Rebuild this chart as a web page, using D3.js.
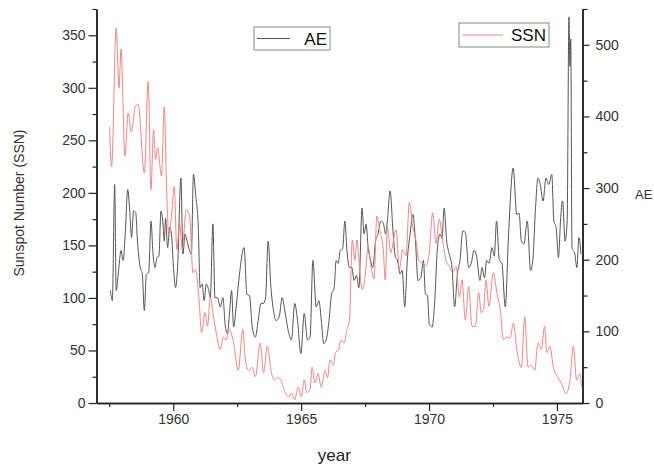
<!DOCTYPE html>
<html>
<head>
<meta charset="utf-8">
<script src="https://cdn.jsdelivr.net/npm/d3@7"></script>
<style>
  body { margin: 0; background: #fff; }
  svg { font-family: "Liberation Sans", Arial, sans-serif; }
</style>
</head>
<body>
<div id="chart"></div>
<script>
// SSN (left axis) : [year, value]
const ssnData = [
  [1957.51,263],[1957.59,225],[1957.77,357],[1957.88,300],[1957.96,337],[1958.11,235],
  [1958.24,276],[1958.36,258],[1958.52,282],[1958.63,284],[1958.87,219],[1959.02,306],
  [1959.13,203],[1959.23,260],[1959.31,232],[1959.39,243],[1959.54,216],[1959.65,282],
  [1959.75,197],[1959.83,159],[1959.93,178],[1960.04,206],[1960.14,146],[1960.25,172],
  [1960.35,146],[1960.51,184],[1960.64,178],[1960.77,124],[1960.87,127],[1961.00,101],
  [1961.11,67],[1961.24,86],[1961.34,73],[1961.45,101],[1961.55,86],[1961.68,67],
  [1961.84,51],[1961.96,63],[1962.07,60],[1962.18,70],[1962.34,60],[1962.54,31],
  [1962.72,70],[1962.82,41],[1962.96,31],[1963.09,34],[1963.21,25],[1963.40,57],
  [1963.53,29],[1963.68,54],[1963.82,31],[1963.95,22],[1964.07,24],[1964.21,22],
  [1964.34,12],[1964.52,6],[1964.62,9],[1964.75,3],[1964.88,15],[1965.01,6],
  [1965.12,22],[1965.22,10],[1965.35,13],[1965.43,34],[1965.54,19],[1965.66,28],
  [1965.79,15],[1965.93,31],[1966.03,24],[1966.13,41],[1966.26,36],[1966.34,48],
  [1966.45,50],[1966.57,60],[1966.68,57],[1966.79,70],[1966.89,79],[1967.00,155],
  [1967.10,136],[1967.18,155],[1967.28,130],[1967.38,108],[1967.50,120],[1967.62,149],
  [1967.73,130],[1967.85,118],[1967.96,178],[1968.07,165],[1968.21,146],[1968.29,117],
  [1968.37,168],[1968.50,143],[1968.71,165],[1968.84,127],[1968.97,146],[1969.10,140],
  [1969.23,191],[1969.36,168],[1969.49,155],[1969.60,136],[1969.73,133],[1969.88,131],
  [1970.01,143],[1970.14,181],[1970.27,152],[1970.40,175],[1970.53,155],[1970.66,136],
  [1970.79,130],[1970.93,124],[1971.06,130],[1971.19,101],[1971.29,117],[1971.42,79],
  [1971.55,111],[1971.68,73],[1971.81,73],[1971.94,105],[1972.04,86],[1972.13,89],
  [1972.23,117],[1972.34,92],[1972.52,124],[1972.65,105],[1972.78,90],[1972.91,60],
  [1973.04,63],[1973.17,62],[1973.30,76],[1973.43,51],[1973.61,34],[1973.74,82],
  [1973.87,34],[1974.00,36],[1974.13,31],[1974.26,57],[1974.39,51],[1974.52,73],
  [1974.60,48],[1974.73,54],[1974.86,34],[1975.02,25],[1975.17,19],[1975.36,9],
  [1975.51,22],[1975.64,54],[1975.77,22],[1975.90,28],[1975.96,16]
];

// AE (right axis) : [year, value]
const aeData = [
  [1957.54,157],[1957.62,143],[1957.71,305],[1957.77,157],[1957.85,180],[1957.96,213],
  [1958.04,199],[1958.13,240],[1958.22,298],[1958.30,268],[1958.37,231],[1958.45,268],
  [1958.53,266],[1958.61,222],[1958.71,189],[1958.79,180],[1958.87,129],[1958.95,180],
  [1959.04,182],[1959.13,254],[1959.21,208],[1959.29,189],[1959.36,203],[1959.44,205],
  [1959.52,268],[1959.60,250],[1959.65,226],[1959.70,258],[1959.78,217],[1959.86,245],
  [1959.93,235],[1960.01,189],[1960.09,161],[1960.17,189],[1960.30,314],[1960.38,208],
  [1960.46,236],[1960.54,226],[1960.64,213],[1960.71,208],[1960.79,319],[1960.88,290],
  [1960.98,245],[1961.05,161],[1961.13,166],[1961.21,143],[1961.29,166],[1961.37,160],
  [1961.45,147],[1961.55,250],[1961.63,147],[1961.73,147],[1961.84,134],[1961.94,147],
  [1962.04,106],[1962.12,97],[1962.20,125],[1962.28,157],[1962.36,106],[1962.46,134],
  [1962.59,180],[1962.77,217],[1962.88,152],[1962.98,150],[1963.09,106],[1963.21,92],
  [1963.32,115],[1963.43,139],[1963.52,139],[1963.61,147],[1963.71,226],[1963.82,161],
  [1963.92,129],[1964.02,115],[1964.14,120],[1964.26,147],[1964.36,129],[1964.52,97],
  [1964.62,88],[1964.75,139],[1964.86,115],[1964.99,69],[1965.12,125],[1965.25,88],
  [1965.35,92],[1965.46,199],[1965.59,134],[1965.69,143],[1965.80,111],[1965.88,83],
  [1965.98,88],[1966.09,115],[1966.19,152],[1966.29,161],[1966.37,199],[1966.45,195],
  [1966.53,213],[1966.62,215],[1966.71,254],[1966.79,213],[1966.89,189],[1966.98,189],
  [1967.07,171],[1967.16,178],[1967.26,161],[1967.38,272],[1967.46,236],[1967.54,250],
  [1967.62,217],[1967.71,200],[1967.80,189],[1967.91,226],[1968.00,235],[1968.12,254],
  [1968.22,250],[1968.30,236],[1968.37,254],[1968.48,296],[1968.59,240],[1968.69,203],
  [1968.76,200],[1968.87,180],[1968.95,185],[1969.05,134],[1969.15,199],[1969.26,236],
  [1969.37,263],[1969.47,226],[1969.57,171],[1969.68,175],[1969.78,199],[1969.86,152],
  [1969.94,150],[1970.01,111],[1970.12,106],[1970.22,140],[1970.33,217],[1970.43,236],
  [1970.51,230],[1970.59,272],[1970.69,226],[1970.79,208],[1970.90,189],[1971.00,134],
  [1971.11,180],[1971.21,199],[1971.32,240],[1971.42,238],[1971.55,189],[1971.65,195],
  [1971.76,213],[1971.86,205],[1971.99,171],[1972.07,189],[1972.17,175],[1972.25,199],
  [1972.35,195],[1972.46,217],[1972.55,205],[1972.64,254],[1972.75,199],[1972.85,195],
  [1972.98,134],[1973.11,236],[1973.29,328],[1973.43,263],[1973.52,265],[1973.61,226],
  [1973.71,222],[1973.84,254],[1973.97,185],[1974.06,200],[1974.16,270],[1974.26,314],
  [1974.35,305],[1974.46,282],[1974.57,314],[1974.68,305],[1974.80,319],[1974.88,254],
  [1974.97,245],[1975.06,203],[1975.14,254],[1975.22,282],[1975.32,226],[1975.40,254],
  [1975.47,539],[1975.51,470],[1975.54,508],[1975.59,217],[1975.70,208],[1975.78,189],
  [1975.86,231],[1975.94,208]
];

const yearTicks = [1960, 1965, 1970, 1975];
const yearMinor = [1957.5, 1962.5, 1967.5, 1972.5];
const ssnTicks = [0, 50, 100, 150, 200, 250, 300, 350];
const aeTicks = [0, 100, 200, 300, 400, 500];

const W = 654, H = 466;
const margin = {top: 9, right: 71.5, bottom: 63, left: 96.5};
const width = W - margin.left - margin.right;
const height = H - margin.top - margin.bottom;

const svg = d3.select('#chart').append('svg')
  .attr('width', W).attr('height', H);

const x = d3.scaleLinear().domain([1957, 1976]).range([0, width]);
const yL = d3.scaleLinear().domain([0, 375]).range([height, 0]);
const yR = d3.scaleLinear().domain([0, 550]).range([height, 0]);

const g = svg.append('g').attr('transform', `translate(${margin.left},${margin.top})`);

// lines
const ssnLine = d3.line().x(d => x(d[0])).y(d => yL(d[1])).curve(d3.curveMonotoneX);
const aeLine = d3.line().x(d => x(d[0])).y(d => yR(d[1])).curve(d3.curveMonotoneX);

g.append('path').datum(aeData)
  .attr('d', aeLine).attr('fill', 'none')
  .attr('stroke', '#555').attr('stroke-width', 1);
g.append('path').datum(ssnData)
  .attr('d', ssnLine).attr('fill', 'none')
  .attr('stroke', '#f28484').attr('stroke-width', 1);

// axes
function styleAxis(sel) {
  sel.select('.domain').attr('stroke', '#222').attr('stroke-width', 1.5);
  sel.selectAll('.tick line').attr('stroke', '#222').attr('stroke-width', 1.2);
  sel.selectAll('.tick text').attr('fill', '#333').style('font-size', '14px');
}

g.append('g').attr('transform', `translate(0,${height})`)
  .call(d3.axisBottom(x).tickValues(yearMinor).tickSize(4).tickFormat('').tickSizeOuter(0))
  .call(styleAxis);
g.append('g').attr('transform', `translate(0,${height})`)
  .call(d3.axisBottom(x).tickValues(yearTicks).tickSize(8).tickPadding(3).tickFormat(d3.format('d')).tickSizeOuter(0))
  .call(styleAxis);

g.append('g')
  .call(d3.axisLeft(yL).tickValues(d3.range(25, 400, 50)).tickSize(4).tickFormat('').tickSizeOuter(0))
  .call(styleAxis);
g.append('g')
  .call(d3.axisLeft(yL).tickValues(ssnTicks).tickSize(8).tickPadding(3).tickSizeOuter(0))
  .call(styleAxis);

g.append('g').attr('transform', `translate(${width},0)`)
  .call(d3.axisRight(yR).tickValues(d3.range(50, 600, 100)).tickSize(5).tickFormat('').tickSizeOuter(0))
  .call(styleAxis);
g.append('g').attr('transform', `translate(${width},0)`)
  .call(d3.axisRight(yR).tickValues(aeTicks).tickSize(7).tickPadding(6).tickSizeOuter(0))
  .call(styleAxis);

// axis titles
svg.append('text')
  .attr('transform', `translate(24,${margin.top + height / 2 - 3}) rotate(-90)`)
  .attr('text-anchor', 'middle')
  .attr('fill', '#333').style('font-size', '14px')
  .text('Sunspot Number (SSN)');

svg.append('text')
  .attr('x', 635).attr('y', 199)
  .attr('fill', '#333').style('font-size', '13px')
  .text('AE');

svg.append('text')
  .attr('x', margin.left + x(1966.3)).attr('y', 461)
  .attr('text-anchor', 'middle')
  .attr('fill', '#222').style('font-size', '17px')
  .text('year');

// legends
const legends = [
  {label: 'AE', color: '#555', x: 254, y: 27, w: 76, h: 23},
  {label: 'SSN', color: '#f28484', x: 459, y: 23, w: 90, h: 24}
];
legends.forEach(l => {
  const lg = svg.append('g').attr('transform', `translate(${l.x},${l.y})`);
  lg.append('rect').attr('width', l.w).attr('height', l.h)
    .attr('fill', '#fff').attr('stroke', '#888').attr('stroke-width', 1);
  lg.append('line').attr('x1', 3).attr('x2', l.w - 40 - (l.label.length - 2) * 6)
    .attr('y1', l.h / 2).attr('y2', l.h / 2)
    .attr('stroke', l.color).attr('stroke-width', 1);
  lg.append('text').attr('x', l.w - 3).attr('y', l.h / 2 + 6)
    .attr('text-anchor', 'end').attr('fill', '#111').style('font-size', '17px')
    .text(l.label);
});
</script>
</body>
</html>
